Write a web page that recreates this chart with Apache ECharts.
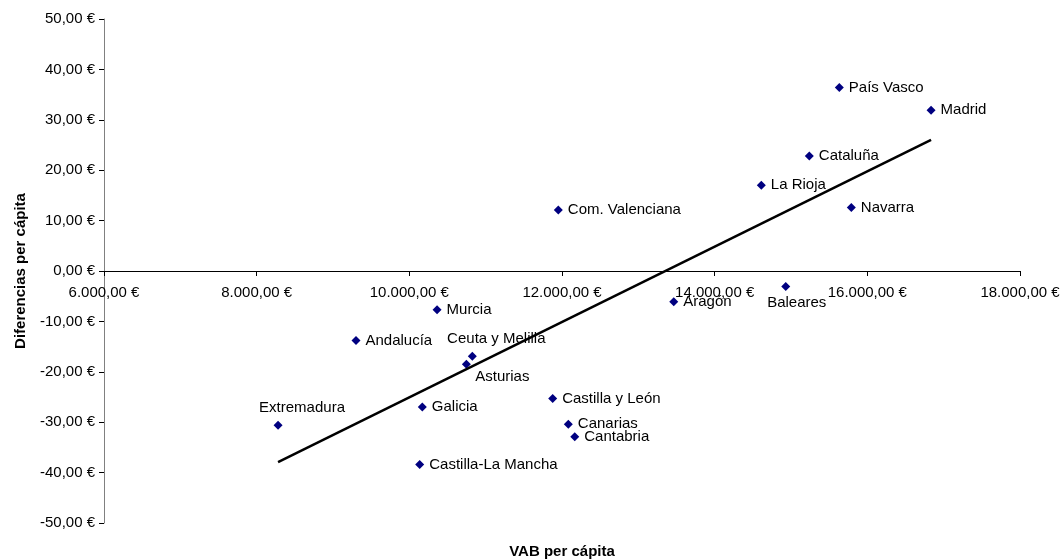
<!DOCTYPE html>
<html>
<head>
<meta charset="utf-8">
<script src="https://cdn.jsdelivr.net/npm/echarts@6/dist/echarts.min.js"></script>
<style>html,body{margin:0;padding:0;background:#fff}#c{width:1063px;height:560px}</style>
</head>
<body>
<div id="c"></div>
<script>
const regions = ['País Vasco','Madrid','Cataluña','La Rioja','Navarra','Com. Valenciana','Baleares','Aragón','Murcia','Andalucía','Ceuta y Melilla','Asturias','Castilla y León','Galicia','Canarias','Cantabria','Extremadura','Castilla-La Mancha'];
const vabPerCapita = [15633,16835,15240,14611,15790,11952,14931,13464,10363,9301,10825,10747,11878,10170,12083,12167,8280,10136];
const difPerCapita = [36.4,31.9,22.8,17.0,12.6,12.1,-3.1,-6.1,-7.7,-13.8,-16.9,-18.5,-25.3,-27.0,-30.4,-32.9,-30.6,-38.4];
const trendX = [8280,16835];
const trendY = [-37.9,26.0];
const xTicks = {min:6000,max:18000,step:2000};
const yTicks = {min:-50,max:50,step:10};

function fmt(v){
  const neg = v < 0;
  const parts = Math.abs(v).toFixed(2).split('.');
  const intPart = parts[0].replace(/\B(?=(\d{3})+(?!\d))/g,'.');
  return (neg?'-':'') + intPart + ',' + parts[1] + ' €';
}

const labelSpecial = {
  'Extremadura': {position:'top', offset:[24,0]},
  'Ceuta y Melilla': {position:'top', offset:[24,0]},
  'Asturias': {position:'bottom', offset:[36,-4]},
  'Baleares': {position:'bottom', offset:[11,-1]}
};

const pts = regions.map((r,i)=>{
  const o = {name:r, value:[vabPerCapita[i], difPerCapita[i]]};
  if(labelSpecial[r]) o.label = labelSpecial[r];
  return o;
});

const font = 'Liberation Sans, Arial, sans-serif';
const gridTop = 19, gridBottom = 37, H = 560;
const gridH = H - gridTop - gridBottom;
// shift the x axis up so it sits at y = 0
const xAxisOffset = -gridH * (0 - yTicks.min) / (yTicks.max - yTicks.min);

const chart = echarts.init(document.getElementById('c'));
chart.setOption({
  animation:false,
  grid:{left:104,right:43,top:gridTop,bottom:gridBottom},
  xAxis:{
    type:'value', min:xTicks.min, max:xTicks.max, interval:xTicks.step,
    position:'bottom', offset:xAxisOffset,
    axisLine:{onZero:false, lineStyle:{color:'#000',width:1}},
    axisTick:{show:true, length:5, inside:false, lineStyle:{color:'#000'}},
    axisLabel:{formatter:fmt, color:'#000', fontSize:15, fontFamily:font, margin:14, showMinLabel:true, showMaxLabel:true, hideOverlap:false},
    splitLine:{show:false}
  },
  yAxis:{
    type:'value', min:yTicks.min, max:yTicks.max, interval:yTicks.step,
    axisLine:{show:true, onZero:false, lineStyle:{color:'#808080',width:1}},
    axisTick:{show:true, length:5, lineStyle:{color:'#000'}},
    axisLabel:{formatter:fmt, color:'#000', fontSize:15, fontFamily:font, margin:9},
    splitLine:{show:false},
    name:'Diferencias per cápita', nameLocation:'middle', nameGap:76,
    nameTextStyle:{fontWeight:'bold', fontSize:15, fontFamily:font, color:'#000'}
  },
  graphic:[{
    type:'text', x:562, y:552,
    style:{text:'VAB per cápita', textAlign:'center', textVerticalAlign:'middle', font:'bold 15px '+font, fill:'#000'}
  }],
  series:[
    {
      type:'scatter', symbol:'diamond', symbolSize:9,
      itemStyle:{color:'#000080', opacity:1},
      label:{show:true, position:'right', distance:5, formatter:'{b}', color:'#000', fontSize:15, fontFamily:font},
      data:pts
    },
    {
      type:'line', symbol:'none', silent:true,
      lineStyle:{color:'#000', width:2.5},
      data:trendX.map((x,i)=>[x,trendY[i]])
    }
  ]
});
</script>
</body>
</html>
